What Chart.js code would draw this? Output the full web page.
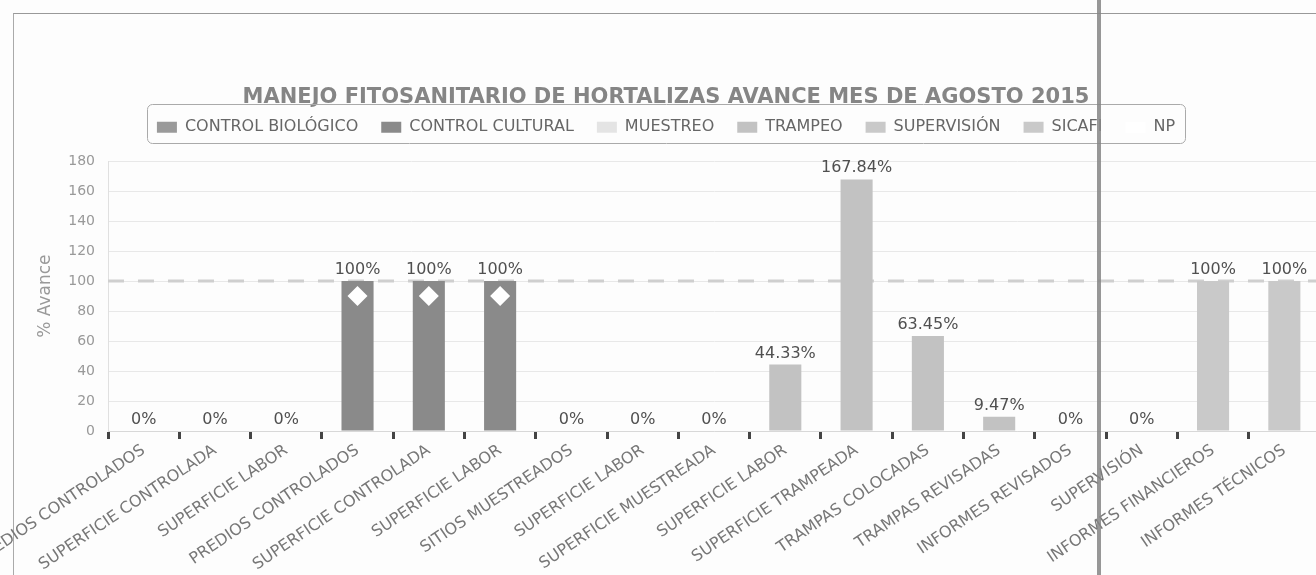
<!DOCTYPE html>
<html>
<head>
<meta charset="utf-8">
<script src="https://cdn.jsdelivr.net/npm/chart.js@4"></script>
<style>
  html, body { margin: 0; padding: 0; background: #fdfdfd; overflow: hidden; }
  #page { position: relative; width: 1316px; height: 575px; overflow: hidden; }
  #frame { position: absolute; left: 13px; top: 13px; width: 1400px; height: 600px; border-left: 1px solid #aaa; border-top: 1px solid #999; }
  #fold { position: absolute; left: 1097px; top: 0; width: 4px; height: 575px; background: #858585; opacity: 0.85; }
  #wrap { position: absolute; left: 0; top: 0; width: 1330px; height: 575px; }
</style>
</head>
<body>
<div id="page">
  <div id="frame"></div>
  <div id="wrap"><canvas id="grafica"></canvas></div>
  <div id="fold"></div>
</div>
<script>
// categorias (eje x)
const categorias = [
    'PREDIOS CONTROLADOS', 'SUPERFICIE CONTROLADA', 'SUPERFICIE LABOR',
    'PREDIOS CONTROLADOS', 'SUPERFICIE CONTROLADA', 'SUPERFICIE LABOR',
    'SITIOS MUESTREADOS', 'SUPERFICIE LABOR', 'SUPERFICIE MUESTREADA',
    'SUPERFICIE LABOR', 'SUPERFICIE TRAMPEADA', 'TRAMPAS COLOCADAS', 'TRAMPAS REVISADAS',
    'INFORMES REVISADOS',
    'SUPERVISIÓN', 'INFORMES FINANCIEROS', 'INFORMES TÉCNICOS'
];

// % de avance por componente (null = no aplica)
const controlBiologico = [0, 0, 0, null, null, null, null, null, null, null, null, null, null, null, null, null, null];
const controlCultural  = [null, null, null, 100, 100, 100, null, null, null, null, null, null, null, null, null, null, null];
const muestreo         = [null, null, null, null, null, null, 0, 0, 0, null, null, null, null, null, null, null, null];
const trampeo          = [null, null, null, null, null, null, null, null, null, 44.33, 167.84, 63.45, 9.47, null, null, null, null];
const supervision      = [null, null, null, null, null, null, null, null, null, null, null, null, null, 0, null, null, null];
const sicafi           = [null, null, null, null, null, null, null, null, null, null, null, null, null, null, 0, 100, 100];
const np               = [null, null, null, 90, 90, 90, null, null, null, null, null, null, null, null, null, null, null];

const meta = 100; // linea punteada de meta
const ticksY = [0, 20, 40, 60, 80, 100, 120, 140, 160, 180];

Chart.defaults.font.family = "'DejaVu Sans', Verdana, sans-serif";

// linea de meta (detras de las barras)
const lineaMeta = {
    id: 'lineaMeta',
    beforeDatasetsDraw(chart) {
        const { ctx, chartArea, scales } = chart;
        const y = scales.y.getPixelForValue(meta);
        ctx.save();
        ctx.strokeStyle = '#cfcfcf';
        ctx.lineWidth = 3;
        ctx.setLineDash([16, 14]);
        ctx.beginPath();
        ctx.moveTo(chartArea.left, y);
        ctx.lineTo(chartArea.right, y);
        ctx.stroke();
        ctx.restore();
    }
};

// etiquetas de porcentaje encima de cada barra
const etiquetas = {
    id: 'etiquetas',
    afterDatasetsDraw(chart) {
        const ctx = chart.ctx;
        ctx.save();
        ctx.font = "16px 'DejaVu Sans'";
        ctx.fillStyle = '#505050';
        ctx.textAlign = 'center';
        ctx.textBaseline = 'alphabetic';
        chart.data.datasets.forEach((ds, i) => {
            if (ds.type === 'line') return;
            chart.getDatasetMeta(i).data.forEach((bar, j) => {
                const v = ds.data[j];
                if (v === null || v === undefined) return;
                ctx.fillText(v + '%', bar.x, bar.y - 7);
            });
        });
        ctx.restore();
    }
};

// recuadro redondeado de la leyenda
const marcoLeyenda = {
    id: 'marcoLeyenda',
    afterDraw(chart) {
        const lg = chart.legend;
        if (!lg || !lg.lineWidths) return;
        const pad = lg.options.labels.padding;
        const cx = (lg.left + lg.right) / 2;
        const w = lg.lineWidths[0] - pad + 20;
        const top = lg.top + pad - 15;
        const ctx = chart.ctx;
        ctx.save();
        ctx.strokeStyle = '#aaa';
        ctx.lineWidth = 1;
        ctx.beginPath();
        ctx.roundRect(Math.round(cx - w / 2) + 0.5, Math.round(top) + 0.5, Math.round(w), 39, 5);
        ctx.stroke();
        ctx.restore();
    }
};

const barra = (label, data, color) => ({
    label, data,
    backgroundColor: color,
    borderWidth: 0,
    grouped: false,
    barPercentage: 0.45,
    categoryPercentage: 1
});

new Chart(document.getElementById('grafica'), {
    type: 'bar',
    data: {
        labels: categorias,
        datasets: [
            barra('CONTROL BIOLÓGICO', controlBiologico, '#9a9a9a'),
            barra('CONTROL CULTURAL', controlCultural, '#8a8a8a'),
            barra('MUESTREO', muestreo, '#e4e4e4'),
            barra('TRAMPEO', trampeo, '#c2c2c2'),
            barra('SUPERVISIÓN', supervision, '#c9c9c9'),
            barra('SICAFI', sicafi, '#c9c9c9'),
            {
                type: 'line',
                label: 'NP',
                data: np,
                showLine: false,
                pointStyle: 'rectRot',
                pointRadius: 10,
                pointHoverRadius: 10,
                backgroundColor: '#ffffff',
                borderColor: '#ffffff',
                borderWidth: 0,
                pointBorderWidth: 0,
                order: -1
            }
        ]
    },
    options: {
        responsive: true,
        maintainAspectRatio: false,
        animation: false,
        events: [],
        layout: { padding: { left: 2, right: 0, top: 0, bottom: 0 } },
        plugins: {
            title: {
                display: true,
                text: 'MANEJO FITOSANITARIO DE HORTALIZAS AVANCE MES DE AGOSTO 2015',
                color: '#858585',
                font: { size: 21, weight: 'bold' },
                padding: { top: 85, bottom: -14 }
            },
            legend: {
                position: 'top',
                labels: {
                    boxWidth: 20,
                    boxHeight: 11,
                    color: '#666',
                    font: { size: 16 },
                    padding: 23,
                    sort: (a, b) => a.datasetIndex - b.datasetIndex
                }
            },
            tooltip: { enabled: false }
        },
        scales: {
            x: {
                grid: {
                    offset: true,
                    drawOnChartArea: false,
                    drawTicks: true,
                    tickLength: 8,
                    tickWidth: 3,
                    tickColor: '#444'
                },
                border: { color: '#d8d8d8' },
                ticks: {
                    autoSkip: false,
                    minRotation: 34,
                    maxRotation: 34,
                    color: '#777',
                    font: { size: 16 },
                    padding: 2
                },
                afterFit(scale) {
                    scale.height = 144;
                    scale.paddingLeft = 0;
                    scale.paddingRight = 0;
                }
            },
            // espacio entre la leyenda y el area de la grafica
            arriba: {
                type: 'category',
                axis: 'x',
                position: 'top',
                grid: { display: false },
                border: { display: false },
                ticks: { display: false },
                afterFit(scale) {
                    scale.height = 16;
                }
            },
            y: {
                min: 0,
                max: 180,
                afterBuildTicks(scale) {
                    scale.ticks = ticksY.map(v => ({ value: v }));
                },
                grid: { color: '#e8e8e8', drawTicks: false },
                border: { color: '#e0e0e0' },
                ticks: { color: '#999', font: { size: 14 }, padding: 13 },
                title: {
                    display: true,
                    text: '% Avance',
                    color: '#999',
                    font: { size: 17 },
                    padding: { top: 33 }
                },
                afterFit(scale) {
                    scale.width = 106;
                }
            }
        }
    },
    plugins: [lineaMeta, etiquetas, marcoLeyenda]
});
</script>
</body>
</html>
